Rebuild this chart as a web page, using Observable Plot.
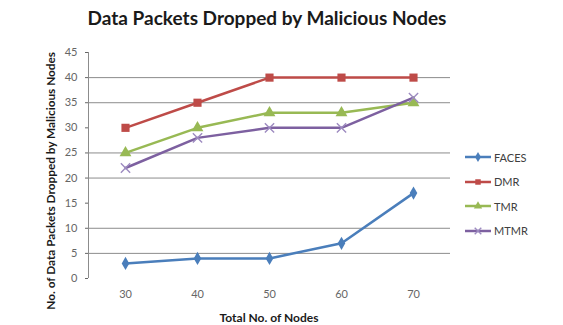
<!DOCTYPE html>
<html><head><meta charset="utf-8">
<script src="https://cdn.jsdelivr.net/npm/d3@7"></script>
<script src="https://cdn.jsdelivr.net/npm/@observablehq/plot@0.6"></script>
<style>
body{margin:0;background:#fff;overflow:hidden;font-family:Lato, sans-serif}
#wrap{position:relative;width:563px;height:325px;overflow:hidden}
#chart{position:absolute;left:0;top:0}
#title{position:absolute;left:0;width:534px;top:6px;text-align:center;font-weight:bold;font-size:19px;color:#1a1a1a;white-space:nowrap}
#legend{position:absolute;left:464px;top:145px;font-size:11px;color:#404040}
.item{height:24.5px;display:flex;align-items:center}
.item svg{margin-right:2px}
</style></head><body>
<div id="wrap"><div id="chart"></div><div id="title">Data Packets Dropped by Malicious Nodes</div><div id="legend"></div></div>
<script>
const nodes = [30, 40, 50, 60, 70];
const faces = [3, 4, 4, 7, 17];
const dmr = [30, 35, 40, 40, 40];
const tmr = [25, 30, 33, 33, 35];
const mtmr = [22, 28, 30, 30, 36];
const seriesNames = ["FACES", "DMR", "TMR", "MTMR"];
const seriesColors = ["#4a7ebb", "#be4b48", "#98b954", "#7d60a0"];
const seriesSymbols = ["diamond", "square", "triangle", "times"];
const yTicks = [0, 5, 10, 15, 20, 25, 30, 35, 40, 45];
const gridValues = [5, 10, 20, 25, 35, 40];
const xTitle = "Total No. of Nodes";
const yTitle = "No. of Data Packets Dropped by Malicious Nodes";

const seriesValues = [faces, dmr, tmr, mtmr];
const rows = [];
seriesNames.forEach((s, i) => nodes.forEach((n, j) => rows.push({series: s, x: n, y: seriesValues[i][j]})));
const markerSize = {FACES: 4, DMR: 4.6, TMR: 4.4};

const plot = Plot.plot({
  width: 563, height: 325,
  marginLeft: 88, marginRight: 113, marginTop: 52, marginBottom: 47,
  style: {fontFamily: "Lato, sans-serif", fontSize: "11px", color: "#666", background: "transparent"},
  x: {type: "point", domain: nodes, padding: 0.5, label: null, tickSize: 0, tickPadding: 12},
  y: {domain: [0, 45], ticks: yTicks, label: null, tickSize: 3, tickPadding: 8},
  color: {domain: seriesNames, range: seriesColors},
  symbol: {domain: seriesNames, range: seriesSymbols},
  marks: [
    Plot.ruleY(gridValues, {stroke: "#8c8c8c", strokeWidth: 1}),
    Plot.line(rows, {x: "x", y: "y", z: "series", stroke: "series", strokeWidth: 2.5}),
    ...["FACES", "DMR", "TMR"].map(s =>
      Plot.dot(rows.filter(d => d.series === s), {x: "x", y: "y", symbol: "series", fill: "series", r: markerSize[s]})),
    Plot.dot(rows.filter(d => d.series === "MTMR"), {x: "x", y: "y", symbol: "series", stroke: "#9d8bc0", r: 4.3, strokeWidth: 1.4})
  ]
});
document.getElementById("chart").appendChild(plot);
const svg = d3.select(plot);
svg.append("line").attr("x1", 88.5).attr("x2", 88.5).attr("y1", 52).attr("y2", 278).attr("stroke", "#8c8c8c");
svg.append("text").text(xTitle).attr("x", 269).attr("y", 322).attr("text-anchor", "middle")
  .attr("font-weight", "bold").attr("font-size", 12).attr("fill", "#1a1a1a");
svg.append("text").text(yTitle).attr("transform", "translate(55,52) rotate(-90)").attr("text-anchor", "end")
  .attr("font-weight", "bold").attr("font-size", 11.8).attr("fill", "#1a1a1a");

const symMap = {diamond: d3.symbolDiamond, square: d3.symbolSquare, triangle: d3.symbolTriangle, times: d3.symbolTimes};
const legend = d3.select("#legend");
seriesNames.forEach((s, i) => {
  const item = legend.append("div").attr("class", "item");
  const sv = item.append("svg").attr("width", 28).attr("height", 12);
  sv.append("line").attr("x1", 1).attr("x2", 27).attr("y1", 6).attr("y2", 6).attr("stroke", seriesColors[i]).attr("stroke-width", 2.5);
  const p = sv.append("path").attr("transform", "translate(14,6)").attr("d", d3.symbol(symMap[seriesSymbols[i]], 30)());
  if (seriesSymbols[i] === "times") p.attr("fill", "none").attr("stroke", "#9d8bc0").attr("stroke-width", 1.4);
  else p.attr("fill", seriesColors[i]);
  item.append("span").text(s);
});
</script>
</body></html>
